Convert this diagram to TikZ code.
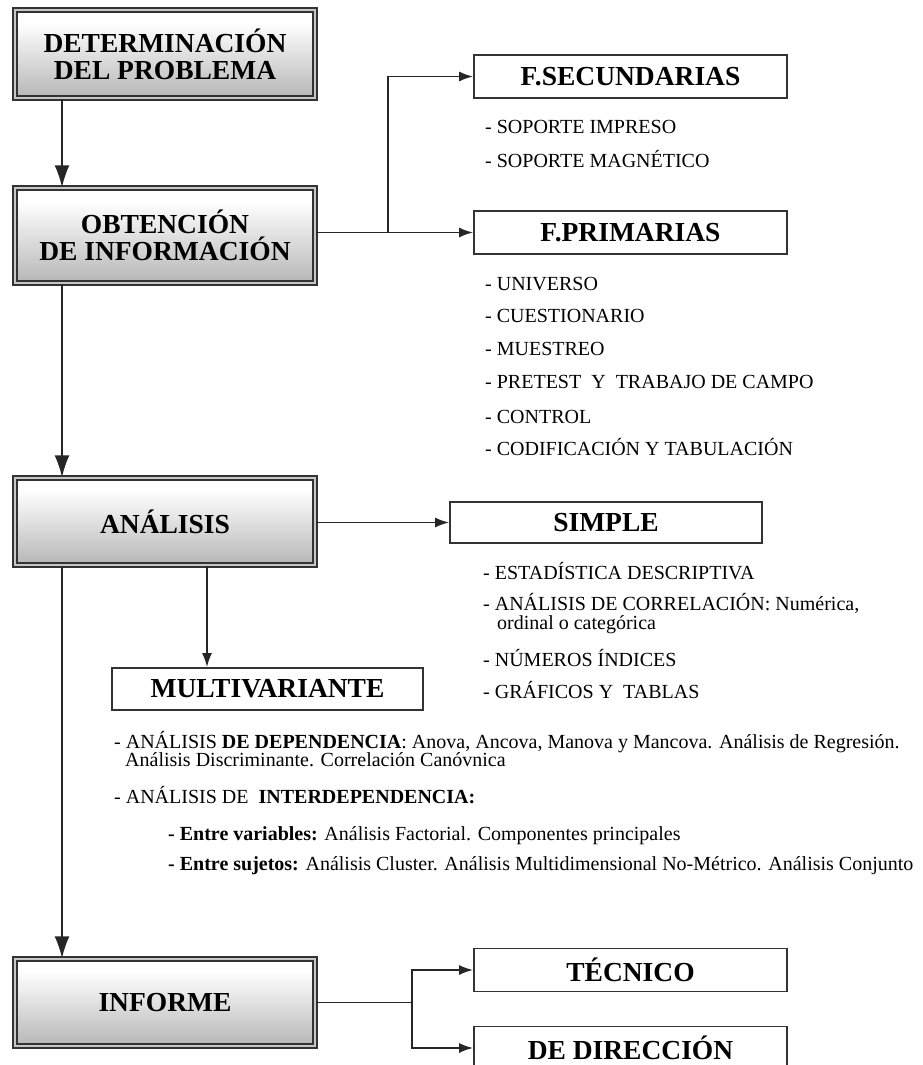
\documentclass[tikz,border=0pt]{standalone}
\usepackage{fontspec}
\setmainfont{Liberation Serif}
\usetikzlibrary{arrows.meta}
\pgfdeclareverticalshading{boxshade}{100bp}{color(0bp)=(black!45); color(20bp)=(black!32); color(68bp)=(white); color(88bp)=(white); color(100bp)=(black!12)}
\begin{document}
\begin{tikzpicture}[x=1pt,y=-1pt,
  conn/.style={line width=1.8pt, draw=black!85},
  bigarrow/.style={conn, -{Latex[length=22pt,width=15pt]}},
  smallarrow/.style={conn, -{Latex[length=14pt,width=10pt]}},
  mainbox/.style={draw=black!80, line width=1.4pt, double=black!22, double distance=2.4pt, shading=boxshade, minimum width=300pt, align=center, font=\bfseries\fontsize{27.5}{27}\selectfont, inner sep=0pt},
  subbox/.style={draw=black!80, line width=1.7pt, fill=white, minimum width=313pt, minimum height=43pt, inner sep=0pt, font=\bfseries\fontsize{27.5}{28}\selectfont},
  item/.style={anchor=base west, inner sep=0pt, font=\fontsize{20}{20}\selectfont}
]
\useasboundingbox (0,0) rectangle (922,1065);
\clip (0,0) rectangle (922,1065);
\fill[white] (0,0) rectangle (922,1065);

\coordinate (mx) at (62,0);
\coordinate (bx1) at (388,0);
\coordinate (mvx) at (207,0);
\coordinate (bx2) at (412,0);

% main boxes
\node[mainbox, minimum height=88pt] (det) at (165,54) {DETERMINACIÓN\\DEL PROBLEMA};
\node[mainbox, minimum height=95pt] (obt) at (165,235.5) {OBTENCIÓN\\DE INFORMACIÓN};
\node[mainbox, minimum height=87pt] (ana) at (165,521.5) {ANÁLISIS};
\node[mainbox, minimum height=87pt] (inf) at (165,1002.5) {INFORME};

% sub boxes
\node[subbox] (fsec) at (630.5,76.5) {F.SECUNDARIAS};
\node[subbox] (fpri) at (630.5,232.5) {F.PRIMARIAS};
\node[subbox, minimum width=312pt, minimum height=41pt] (sim) at (606,522.5) {SIMPLE};
\node[subbox, minimum width=311pt, minimum height=42pt] (mul) at (267.5,689) {MULTIVARIANTE};
\node[subbox] (tec) at (630.5,970) {TÉCNICO};
\node[subbox] (dir) at (630.5,1048) {DE DIRECCIÓN};

% connectors
\draw[bigarrow] (det.south -| mx) -- (obt.north -| mx);
\draw[bigarrow] (obt.south -| mx) -- (ana.north -| mx);
\draw[bigarrow] (ana.south -| mx) -- (inf.north -| mx);
\draw[smallarrow] (obt.east |- fpri.west) -- (fpri.west);
\draw[smallarrow] (bx1 |- fpri.west) |- (fsec.west);
\draw[smallarrow] (ana.east |- sim.west) -- (sim.west);
\draw[smallarrow] (ana.south -| mvx) -- (mul.north -| mvx);
\draw[conn] (inf.east) -- (inf.east -| bx2);
\draw[smallarrow] (inf.east -| bx2) |- (tec.west);
\draw[smallarrow] (inf.east -| bx2) |- (dir.west);

% secondary sources
\node[item] (s1) at (485,133) {- SOPORTE IMPRESO};
\node[item] (s2) at (485,167) {- SOPORTE MAGNÉTICO};

% primary sources
\node[item] (p1) at (485,290) {- UNIVERSO};
\node[item] (p2) at (485,322) {- CUESTIONARIO};
\node[item] (p3) at (485,355) {- MUESTREO};
\node[item] (p4) at (485,388) {- PRETEST\ \ Y\ \ TRABAJO DE CAMPO};
\node[item] (p5) at (485,423) {- CONTROL};
\node[item] (p6) at (485,455) {- CODIFICACIÓN Y TABULACIÓN};

% simple
\node[item] (a1) at (483,579) {- ESTADÍSTICA DESCRIPTIVA};
\node[item] (a2) at (483,610) {- ANÁLISIS DE CORRELACIÓN: Numérica,};
\node[item] (a3) at (497,629) {ordinal o categórica};
\node[item] (a4) at (483,666) {- NÚMEROS ÍNDICES};
\node[item] (a5) at (483,698) {- GRÁFICOS Y\ \ TABLAS};

% multivariante
\node[item] (m1) at (114,748) {- ANÁLISIS \textbf{DE DEPENDENCIA}: Anova, Ancova, Manova y Mancova. Análisis de Regresión.};
\node[item] (m2) at (125,766) {Análisis Discriminante. Correlación Canóvnica};
\node[item] (m3) at (114,803) {- ANÁLISIS DE\ \ \textbf{INTERDEPENDENCIA:}};
\node[item] (m4) at (168,840) {\textbf{- Entre variables:} Análisis Factorial. Componentes principales};
\node[item] (m5) at (168,870) {\textbf{- Entre sujetos:} Análisis Cluster. Análisis Multidimensional No-Métrico. Análisis Conjunto};
\end{tikzpicture}
\end{document}
